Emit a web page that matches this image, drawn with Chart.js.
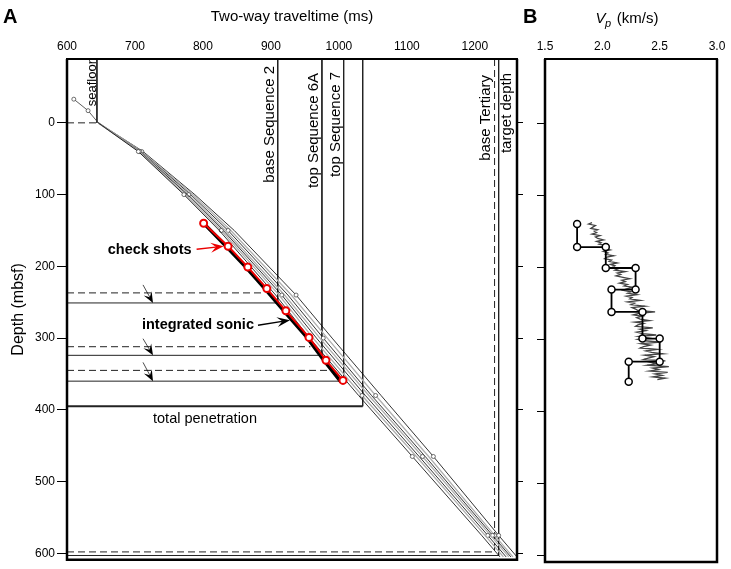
<!DOCTYPE html>
<html>
<head>
<meta charset="utf-8">
<script src="https://cdn.jsdelivr.net/npm/chart.js@4.4.0/dist/chart.umd.min.js"></script>
<style>
  body { margin: 0; background: #fff; }
  #wrap { position: relative; width: 731px; height: 569px; }
  canvas { position: absolute; top: 0; }
  #chartA { left: 0; }
  #chartB { left: 520px; }
</style>
</head>
<body>
<div id="wrap">
  <canvas id="chartA" width="530" height="569"></canvas>
  <canvas id="chartB" width="211" height="569"></canvas>
</div>
<script>
Chart.defaults.font.family = "'Liberation Sans', Arial, Helvetica, sans-serif";
Chart.defaults.color = '#000';

// axis ticks
var twtTicks = [600, 700, 800, 900, 1000, 1100, 1200];
var depthTicks = [0, 100, 200, 300, 400, 500, 600];
var vpTicks = [1.5, 2.0, 2.5, 3.0];

// velocity-function time-depth curves (ms) at these depths (mbsf)
var curveDepth = [0, 40, 100, 150, 240, 300, 380, 465, 575, 605];
var vel1 = [646, 705, 772, 824, 907, 957, 1029, 1108, 1210, 1237];
var vel2 = [646, 706, 774, 827, 912, 962, 1034, 1114, 1215, 1242];
var vel3 = [646, 707, 777, 830, 916, 967, 1039, 1118, 1219, 1246];
var vel4 = [646, 708, 779, 833, 920, 972, 1044, 1123, 1223, 1250];
var vel5 = [646, 709, 782, 837, 925, 977, 1048, 1127, 1226, 1253];
var vel6 = [646, 710, 785, 841, 930, 983, 1054, 1132, 1229, 1256];
var vel7 = [646, 712, 788, 846, 937, 990, 1062, 1139, 1235, 1262];
var datumTwt = [610, 631, 646];
var datumDepth = [-33, -17, 0];

// check shots and integrated sonic
var checkTwt = [801, 837, 866, 894, 922, 956, 981, 1006];
var checkDepth = [140, 172, 201, 231, 262, 299, 331, 359];
var sonicTwt = [799, 834, 863, 891, 919, 953, 978, 1003];
var sonicDepth = [138, 172, 201, 231, 262, 299, 331, 361];

// horizons
var horizonName = ['seafloor', 'base Sequence 2', 'top Sequence 6A', 'top Sequence 7', 'total penetration', 'base Tertiary', 'target depth'];
var horizonTwt = [644, 910, 975, 1007, 1035, 1229, 1235];
var horizonDepth = [0, 251, 324, 360, 395, 598, 603];
// depths predicted before drilling (dashed)
var predictDepth = [237, 312, 345];
var predictTwt = [890, 958, 985];

// panel B: interval velocity between check shots, and sonic log
var intervalVp = [1.78, 2.03, 2.29, 2.08, 2.35, 2.50, 2.23];
var logDepth = [138, 140, 142, 144, 146, 148, 150, 152, 154, 156, 158, 160, 162, 164, 166, 168, 170, 172, 174, 176,
  178, 180, 182, 184, 186, 188, 190, 192, 194, 196, 198, 200, 202, 204, 206, 208, 210, 212, 214, 216,
  218, 220, 222, 224, 226, 228, 230, 232, 234, 236, 238, 240, 242, 244, 246, 248, 250, 252, 254, 256,
  258, 260, 262, 264, 266, 268, 270, 272, 274, 276, 278, 280, 282, 284, 286, 288, 290, 292, 294, 296,
  298, 300, 302, 304, 306, 308, 310, 312, 314, 316, 318, 320, 322, 324, 326, 328, 330, 332, 334, 336,
  338, 340, 342, 344, 346, 348, 350, 352, 354, 356];
var logVp = [1.91, 1.88, 1.94, 1.92, 1.90, 1.96, 1.93, 1.95, 1.91, 1.98, 1.94, 1.96, 2.01, 1.95, 1.99, 1.97, 2.04,
  2.00, 2.03, 2.07, 2.01, 2.05, 2.03, 2.10, 2.04, 2.02, 2.08, 2.06, 2.13, 2.07, 2.11, 2.09,
  2.14, 2.11, 2.20, 2.13, 2.16, 2.12, 2.18, 2.24, 2.17, 2.20, 2.15, 2.22, 2.19, 2.27, 2.21,
  2.18, 2.25, 2.22, 2.30, 2.21, 2.26, 2.24, 2.33, 2.22, 2.28, 2.25, 2.37, 2.26, 2.29, 2.31,
  2.46, 2.32, 2.27, 2.35, 2.30, 2.33, 2.41, 2.28, 2.36, 2.31, 2.29, 2.44, 2.33, 2.38, 2.30,
  2.35, 2.47, 2.32, 2.40, 2.31, 2.37, 2.51, 2.34, 2.42, 2.36, 2.33, 2.48, 2.38, 2.43, 2.53,
  2.37, 2.45, 2.40, 2.36, 2.55, 2.42, 2.47, 2.39, 2.58, 2.44, 2.49, 2.41, 2.57, 2.46, 2.52, 2.44, 2.55, 2.48];

var yMin = -89, yMax = 609;
var xMin = 600, xMax = 1262;
var FONT = "'Liberation Sans', Arial, Helvetica, sans-serif";

function pts(xs, ys) {
  return xs.map(function (x, i) { return { x: x, y: ys[i] }; });
}
function fixTicks(list) {
  return function (scale) { scale.ticks = list.map(function (v) { return { value: v }; }); };
}

// ---------- panel A datasets ----------
var dsA = [];
dsA.push({
  data: pts(checkTwt, checkDepth), borderColor: 'rgb(235,0,0)', borderWidth: 2,
  pointRadius: 3.5, pointBorderWidth: 2, pointBackgroundColor: '#fff', pointBorderColor: 'rgb(235,0,0)'
});
dsA.push({ data: pts(sonicTwt, sonicDepth), borderColor: '#000', borderWidth: 3.5, pointRadius: 0 });

var curves = [vel1, vel2, vel3, vel4, vel5, vel6, vel7];
var curveStyle = [
  { color: '#000', width: 0.8, marks: [1, 2, 7] },
  { color: '#b0b0b0', width: 1.3, marks: [3, 6] },
  { color: '#000', width: 0.8, marks: [1, 4, 8] },
  { color: '#b0b0b0', width: 1.3, marks: [2, 7] },
  { color: '#000', width: 0.8, marks: [3, 5, 8] },
  { color: '#b0b0b0', width: 1.3, marks: [1, 6, 8] },
  { color: '#000', width: 0.8, marks: [4, 7, 8] }
];
curves.forEach(function (c, i) {
  var st = curveStyle[i];
  dsA.push({
    data: pts(c, curveDepth), borderColor: st.color, borderWidth: st.width,
    pointRadius: curveDepth.map(function (d, j) { return st.marks.indexOf(j) >= 0 ? 2 : 0; }),
    pointBackgroundColor: '#fff', pointBorderColor: '#333', pointBorderWidth: 0.7
  });
});
dsA.push({
  data: pts(datumTwt, datumDepth), borderColor: '#333', borderWidth: 0.8,
  pointRadius: [2, 2, 0], pointBackgroundColor: '#fff', pointBorderColor: '#333', pointBorderWidth: 0.7
});

horizonName.forEach(function (name, i) {
  var t = horizonTwt[i], d = horizonDepth[i];
  var hDash = (name === 'seafloor' || name === 'base Tertiary') ? [7, 4] : [];
  var vDash = name === 'base Tertiary' ? [7, 4] : [];
  var hw = name === 'total penetration' ? 2 : 1;
  dsA.push({ data: [{ x: xMin, y: d }, { x: t, y: d }], borderColor: '#222', borderWidth: hw, borderDash: hDash, pointRadius: 0 });
  dsA.push({ data: [{ x: t, y: yMin }, { x: t, y: d }], borderColor: '#222', borderWidth: 1, borderDash: vDash, pointRadius: 0 });
});
predictDepth.forEach(function (d, i) {
  dsA.push({ data: [{ x: xMin, y: d }, { x: predictTwt[i], y: d }], borderColor: '#222', borderWidth: 1, borderDash: [7, 4], pointRadius: 0 });
});

function frame(ctx, a) {
  ctx.save();
  ctx.strokeStyle = '#000';
  ctx.lineWidth = 2;
  ctx.beginPath(); ctx.moveTo(a.left - 1, a.top); ctx.lineTo(a.right + 1, a.top); ctx.stroke();
  ctx.lineWidth = 2.5;
  ctx.beginPath();
  ctx.moveTo(a.left, a.top); ctx.lineTo(a.left, a.bottom); ctx.lineTo(a.right, a.bottom); ctx.lineTo(a.right, a.top);
  ctx.stroke();
  ctx.restore();
}

function arrow(ctx, x1, y1, x2, y2, color, lw, len, half) {
  var a = Math.atan2(y2 - y1, x2 - x1);
  ctx.save();
  ctx.strokeStyle = color; ctx.fillStyle = color; ctx.lineWidth = lw;
  ctx.beginPath(); ctx.moveTo(x1, y1);
  ctx.lineTo(x2 - Math.cos(a) * len * 0.6, y2 - Math.sin(a) * len * 0.6); ctx.stroke();
  ctx.translate(x2, y2); ctx.rotate(a);
  ctx.beginPath(); ctx.moveTo(0, 0); ctx.lineTo(-len, -half); ctx.lineTo(-len * 0.6, 0); ctx.lineTo(-len, half);
  ctx.closePath(); ctx.fill();
  ctx.restore();
}

function vLabel(ctx, text, x, y, size) {
  ctx.save();
  ctx.translate(x, y); ctx.rotate(-Math.PI / 2);
  ctx.font = size + 'px ' + FONT;
  ctx.textAlign = 'right'; ctx.textBaseline = 'alphabetic';
  ctx.fillText(text, 0, 0);
  ctx.restore();
}

var labelPlace = {
  'seafloor': { dx: -1, top: 60, size: 13 },
  'base Sequence 2': { dx: -4, top: 66, size: 15 },
  'top Sequence 6A': { dx: -4, top: 73, size: 15 },
  'top Sequence 7': { dx: -4, top: 72, size: 15 },
  'base Tertiary': { dx: -5, top: 75, size: 15 },
  'target depth': { dx: 12, top: 73, size: 15 }
};

var decorA = {
  id: 'decorA',
  afterDraw: function (chart) {
    var ctx = chart.ctx, a = chart.chartArea;
    var xs = chart.scales.x, ys = chart.scales.y;
    frame(ctx, a);
    ctx.save();
    ctx.fillStyle = '#000';
    ctx.font = 'bold 20px ' + FONT;
    ctx.textAlign = 'left'; ctx.textBaseline = 'alphabetic';
    ctx.fillText('A', 3, 23);

    horizonName.forEach(function (name, i) {
      var lp = labelPlace[name];
      if (lp) vLabel(ctx, name, xs.getPixelForValue(horizonTwt[i]) + lp.dx, lp.top, lp.size);
    });
    var tp = horizonName.indexOf('total penetration');
    ctx.font = '14.5px ' + FONT;
    ctx.textAlign = 'center'; ctx.textBaseline = 'top';
    ctx.fillText('total penetration', 205, ys.getPixelForValue(horizonDepth[tp]) + 5);

    // small arrows from predicted to drilled depth
    [1, 2, 3].forEach(function (h, k) {
      var tailY = ys.getPixelForValue(predictDepth[k]) - 8;
      var tipY = ys.getPixelForValue(horizonDepth[h]);
      arrow(ctx, 143, tailY, 153, tipY, '#000', 0.7, 11, 4.5);
    });

    // check shots label
    var cx = xs.getPixelForValue(checkTwt[1]) - 4.5, cy = ys.getPixelForValue(checkDepth[1]);
    arrow(ctx, cx - 27, cy + 3, cx, cy, 'rgb(235,0,0)', 1.5, 13, 5);
    ctx.font = 'bold 14.5px ' + FONT;
    ctx.textAlign = 'right'; ctx.textBaseline = 'middle';
    ctx.fillText('check shots', cx - 32, cy + 4);

    // integrated sonic label
    var sx = xs.getPixelForValue(928), sy = ys.getPixelForValue(275);
    arrow(ctx, sx - 32, sy + 5, sx, sy, '#000', 1.5, 13, 5);
    ctx.fillText('integrated sonic', sx - 36, sy + 5);
    ctx.restore();
  }
};

new Chart(document.getElementById('chartA').getContext('2d'), {
  type: 'scatter',
  data: { datasets: dsA.map(function (d) { d.showLine = true; return d; }) },
  options: {
    responsive: false,
    animation: false,
    layout: { padding: { left: 0, right: 0, top: 0, bottom: 7 } },
    plugins: { legend: { display: false }, tooltip: { enabled: false } },
    scales: {
      x: {
        type: 'linear', position: 'top', min: xMin, max: xMax,
        afterBuildTicks: fixTicks(twtTicks),
        afterFit: function (s) { s.height = 59; },
        grid: { display: false, drawTicks: false },
        border: { display: false },
        ticks: { font: { size: 12 }, color: '#000', padding: 5, maxRotation: 0, callback: function (v) { return String(v); } },
        title: { display: true, text: 'Two-way traveltime (ms)', font: { size: 15 }, color: '#000', padding: { top: 8, bottom: 0 } }
      },
      y: {
        type: 'linear', position: 'left', reverse: true, min: yMin, max: yMax,
        afterBuildTicks: fixTicks(depthTicks),
        afterFit: function (s) { s.width = 67; },
        grid: { drawOnChartArea: false, drawTicks: true, tickLength: 10, color: '#000', lineWidth: 1 },
        border: { display: false },
        ticks: { font: { size: 12 }, color: '#000', padding: 2 },
        title: { display: true, text: 'Depth (mbsf)', font: { size: 16 }, color: '#000', padding: { top: 9, bottom: 0 } }
      },
      y2: {
        type: 'linear', position: 'right', reverse: true, min: yMin, max: yMax,
        afterBuildTicks: fixTicks(depthTicks),
        afterFit: function (s) { s.width = 13; },
        grid: { drawOnChartArea: false, drawTicks: true, tickLength: 6, color: '#000', lineWidth: 1 },
        border: { display: false },
        ticks: { display: false }
      }
    }
  },
  plugins: [decorA]
});

// ---------- panel B ----------
var stepPts = [];
intervalVp.forEach(function (v, i) {
  stepPts.push({ x: v, y: checkDepth[i] });
  stepPts.push({ x: v, y: checkDepth[i + 1] });
});

var decorB = {
  id: 'decorB',
  afterDraw: function (chart) {
    var ctx = chart.ctx, a = chart.chartArea;
    frame(ctx, a);
    ctx.save();
    ctx.fillStyle = '#000';
    ctx.font = 'bold 20px ' + FONT;
    ctx.textAlign = 'left'; ctx.textBaseline = 'alphabetic';
    ctx.fillText('B', 3, 23);
    // V_p (km/s)
    var big = '15px ' + FONT, it = 'italic 15px ' + FONT, sub = 'italic 11px ' + FONT;
    ctx.font = it; var wV = ctx.measureText('V').width;
    ctx.font = sub; var wp = ctx.measureText('p').width;
    ctx.font = big; var wu = ctx.measureText(' (km/s)').width;
    var x0 = 107 - (wV + wp + 1 + wu) / 2, base = 23;
    ctx.font = it; ctx.fillText('V', x0, base);
    ctx.font = sub; ctx.fillText('p', x0 + wV - 0.5, base + 4);
    ctx.font = big; ctx.fillText(' (km/s)', x0 + wV + wp + 1, base);
    ctx.restore();
  }
};

new Chart(document.getElementById('chartB').getContext('2d'), {
  type: 'scatter',
  data: {
    datasets: [
      {
        data: stepPts, showLine: true, borderColor: '#000', borderWidth: 1.8,
        pointRadius: 3.5, pointBorderWidth: 1.5, pointBackgroundColor: '#fff', pointBorderColor: '#000'
      },
      { data: pts(logVp, logDepth), showLine: true, borderColor: '#444', borderWidth: 1.3, pointRadius: 0 }
    ]
  },
  options: {
    responsive: false,
    animation: false,
    layout: { padding: { left: 0, right: 14, top: 0, bottom: 7 } },
    plugins: { legend: { display: false }, tooltip: { enabled: false } },
    scales: {
      x: {
        type: 'linear', position: 'top', min: 1.5, max: 3.0,
        afterBuildTicks: fixTicks(vpTicks),
        afterFit: function (s) { s.height = 59; },
        grid: { display: false, drawTicks: false },
        border: { display: false },
        ticks: { font: { size: 12 }, color: '#000', padding: 5, maxRotation: 0, callback: function (v) { return v.toFixed(1); } }
      },
      y: {
        type: 'linear', position: 'left', reverse: true, min: yMin, max: yMax,
        afterBuildTicks: fixTicks(depthTicks),
        afterFit: function (s) { s.width = 25; },
        grid: { drawOnChartArea: false, drawTicks: true, tickLength: 8, color: '#000', lineWidth: 1 },
        border: { display: false },
        ticks: { display: false }
      }
    }
  },
  plugins: [decorB]
});
</script>
</body>
</html>
